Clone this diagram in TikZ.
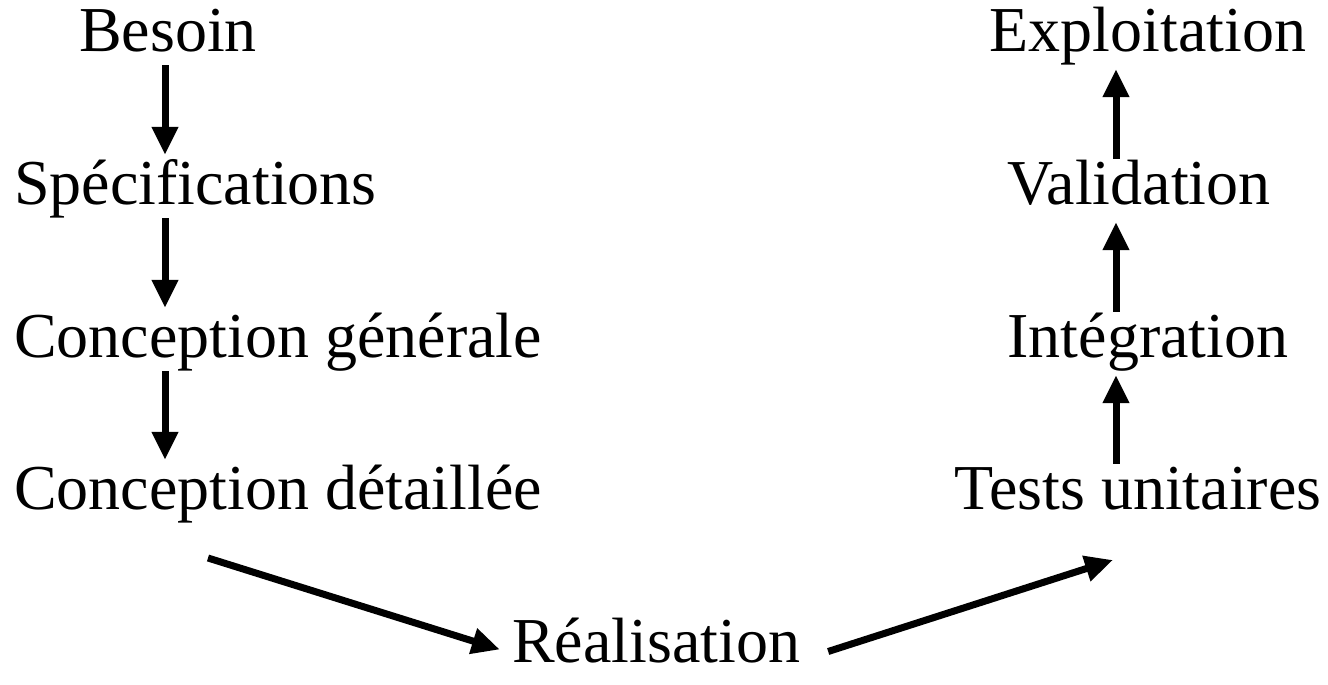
\documentclass[tikz,border=0pt]{standalone}
\usepackage{fontspec}
\setmainfont{Liberation Serif}
\usepackage{tikz}
\usetikzlibrary{arrows.meta,calc,positioning}

\begin{document}
\begin{tikzpicture}[
      x=1pt, y=1pt,
      font=\fontsize{64}{76}\selectfont,
      >={Triangle[length=28pt,width=25pt]},
      phase/.style={inner sep=0pt, text height=46pt, text depth=13pt},
      arr/.style={->, line width=7pt},
]
\useasboundingbox (0,0) rectangle (1328,685);

% descending branch
\node[phase, anchor=base] (besoin) at (168,633) {Besoin};
\node[phase, anchor=base west] (spec) at (14,480) {Spécifications};
\node[phase, anchor=base west] (cgen) at (14,327) {Conception générale};
\node[phase, anchor=base west] (cdet) at (14,175) {Conception détaillée};
\node[phase, anchor=base] (real) at (656,22) {Réalisation};

% ascending branch
\node[phase, anchor=base] (tests) at (1138,175) {Tests unitaires};
\node[phase, anchor=base] (integ) at (1148,327) {Intégration};
\node[phase, anchor=base] (valid) at (1139,480) {Validation};
\node[phase, anchor=base] (exploit) at (1148,633) {Exploitation};

\coordinate (lx) at (165,0);
\coordinate (rx) at (1116,0);
\coordinate (cdet_out) at (208,127);
\coordinate (tests_in) at (1113,125);

\draw[arr] (besoin.south -| lx) -- ($(spec.north -| lx)+(0,4)$);
\draw[arr] (spec.south -| lx) -- ($(cgen.north -| lx)+(0,4)$);
\draw[arr] (cgen.south -| lx) -- ($(cdet.north -| lx)+(0,4)$);

\draw[arr] (cdet_out) -- ($(real.west)+(-12,-3)$);
\draw[arr] ($(real.east)+(28,-5)$) -- (tests_in);

\draw[arr] (tests.north -| rx) -- ($(integ.south -| rx)+(0,-4)$);
\draw[arr] (integ.north -| rx) -- ($(valid.south -| rx)+(0,-4)$);
\draw[arr] (valid.north -| rx) -- ($(exploit.south -| rx)+(0,-4)$);

\end{tikzpicture}
\end{document}
